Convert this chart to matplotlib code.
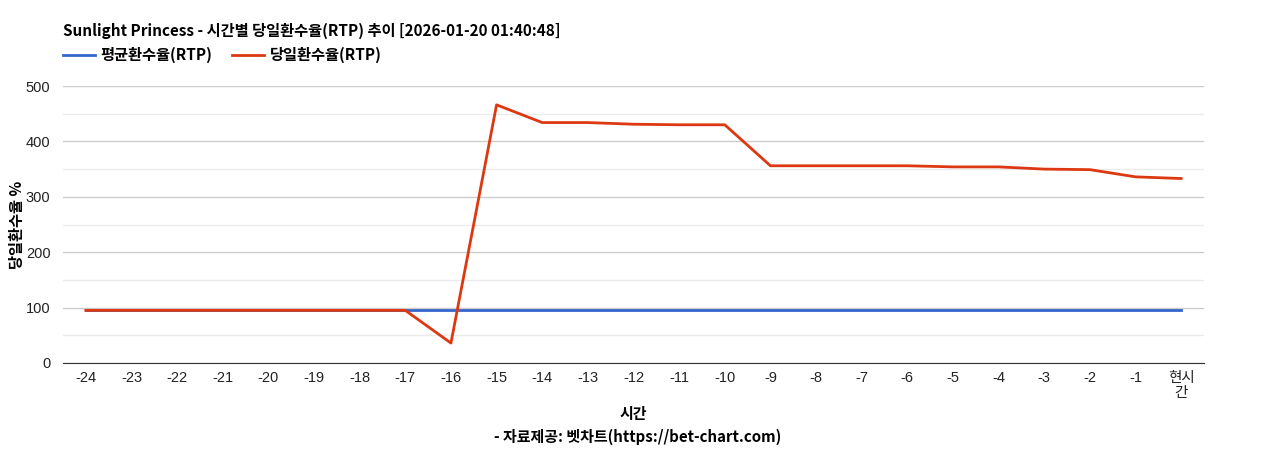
import matplotlib
matplotlib.use("Agg")
import matplotlib.pyplot as plt
from matplotlib.lines import Line2D

categories = ["-24", "-23", "-22", "-21", "-20", "-19", "-18", "-17", "-16", "-15",
              "-14", "-13", "-12", "-11", "-10", "-9", "-8", "-7", "-6", "-5",
              "-4", "-3", "-2", "-1", "현시\n간"]
avg_rtp = [95] * 25
daily_rtp = [95, 95, 95, 95, 95, 95, 95, 95, 36, 466,
             434, 434, 431, 430, 430, 356, 356, 356, 356, 354,
             354, 350, 349, 336, 333]

title = "Sunlight Princess - 시간별 당일환수율(RTP) 추이 [2026-01-20 01:40:48]"
legend_labels = ["평균환수율(RTP)", "당일환수율(RTP)"]
colors = ["#3366cc", "#dc3912"]

FAM = ["Noto Sans CJK KR", "DejaVu Sans"]
TICKFAM = ["Liberation Sans", "Noto Sans CJK KR"]

fig = plt.figure(figsize=(12.68, 4.5), dpi=100)
W, H = 1268, 450
ax = fig.add_axes([63 / W, 1 - 363 / H, (1204 - 63) / W, (363 - 86) / H])

x = list(range(len(categories)))
ax.plot(x, avg_rtp, color=colors[0], lw=2, zorder=3)
ax.plot(x, daily_rtp, color=colors[1], lw=2, zorder=4)

ax.set_xlim(-0.5, len(categories) - 0.5)
ax.set_ylim(0, 500)
ax.set_yticks([0, 100, 200, 300, 400, 500])
ax.set_yticks([50, 150, 250, 350, 450], minor=True)
ax.grid(True, which="major", axis="y", color="#cccccc", lw=1)
ax.grid(True, which="minor", axis="y", color="#ebebeb", lw=1)
ax.set_axisbelow(True)
for s in ["top", "right", "left"]:
    ax.spines[s].set_visible(False)
ax.spines["bottom"].set_color("#333333")
ax.tick_params(axis="both", which="both", length=0)
ax.tick_params(axis="y", pad=9)
ax.tick_params(axis="x", pad=6)
ax.set_xticks(x)
ax.set_xticklabels(categories, family=TICKFAM, fontsize=10.5, color="#222222", linespacing=1.1)
for lab in ax.get_yticklabels():
    lab.set_family(TICKFAM)
    lab.set_fontsize(10.5)
    lab.set_color("#222222")

ax.set_ylabel("당일환수율 %", family=FAM, fontsize=11, fontweight="bold")
ax.yaxis.set_label_coords(-(63 - 25) / (1204 - 63), 0.5)

fig.text((63 + 1204) / 2 / W, 1 - 414 / H, "시간", family=FAM, fontsize=10.8,
         fontweight="bold", ha="center", va="center")
fig.text((63 + 1204) / 2 / W + 0.003, 1 - 437 / H, "- 자료제공: 벳차트(https://bet-chart.com)",
         family=FAM, fontsize=10.8, fontweight="bold", ha="center", va="center")

fig.text(63 / W, 1 - 31 / H, title, family=FAM, fontsize=11, fontweight="bold",
         ha="left", va="center")

handles = [Line2D([], [], color=c, lw=2) for c in colors]
leg = fig.legend(handles, legend_labels, loc="center left",
                 bbox_to_anchor=(63 / W, 1 - 55 / H), ncol=2, frameon=False,
                 prop={"family": FAM, "size": 11, "weight": "bold"},
                 handlelength=2.1, handletextpad=0.35, columnspacing=1.3,
                 borderaxespad=0, borderpad=0)

fig.savefig("out.png", dpi=100, facecolor="white")
